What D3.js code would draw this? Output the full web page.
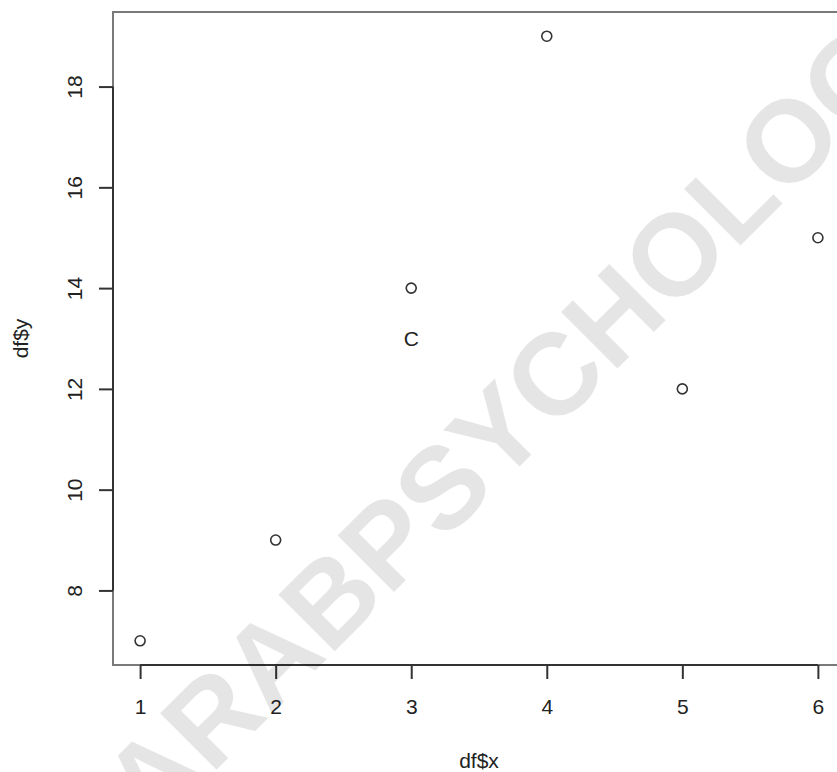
<!DOCTYPE html>
<html>
<head>
<meta charset="utf-8">
<script src="https://cdn.jsdelivr.net/npm/d3@7"></script>
<style>
  body { margin: 0; background: #fff; }
  svg { display: block; font-family: "Liberation Sans", Arial, Helvetica, sans-serif; }
</style>
</head>
<body>
<svg id="chart" width="837" height="772"></svg>
<script>
var xs = [1, 2, 3, 4, 5, 6]
var ys = [7, 9, 14, 19, 12, 15]
var labels = [{ x: 3, y: 13, text: 'C' }]
var xTicks = [1, 2, 3, 4, 5, 6]
var yTicks = [8, 10, 12, 14, 16, 18]
var xTitle = 'df$x'
var yTitle = 'df$y'
var watermark = 'ARABPSYCHOLOGY'

var FONT = 21

// plot region, like R's default margins (the right edge falls outside the picture)
var plotLeft = 113
var plotRight = 845
var plotTop = 12
var plotBottom = 665

// R pads the data range by 4% on each side
function padded (values) {
  var ext = d3.extent(values)
  var pad = (ext[1] - ext[0]) * 0.04
  return [ext[0] - pad, ext[1] + pad]
}

var x = d3.scaleLinear().domain(padded(xs)).range([plotLeft, plotRight])
var y = d3.scaleLinear().domain(padded(ys)).range([plotBottom, plotTop])

var svg = d3.select('#chart')

svg.append('rect')
  .attr('x', plotLeft)
  .attr('y', plotTop)
  .attr('width', plotRight - plotLeft)
  .attr('height', plotBottom - plotTop)
  .attr('fill', 'none')
  .attr('stroke', '#7a7a7a')
  .attr('stroke-width', 2)

var xAxis = svg.append('g')
  .attr('transform', 'translate(0,' + plotBottom + ')')
  .call(d3.axisBottom(x).tickValues(xTicks).tickFormat(d3.format('d'))
    .tickSize(14).tickSizeOuter(0).tickPadding(20))
xAxis.select('.domain')
  .attr('d', 'M' + x(xTicks[0]) + ',0H' + x(xTicks[xTicks.length - 1]))
xAxis.selectAll('line, .domain').attr('stroke', '#333').attr('stroke-width', 2)
xAxis.selectAll('text')
  .attr('font-size', FONT)
  .attr('font-family', null)
  .attr('fill', '#222')

var yAxis = svg.append('g')
  .attr('transform', 'translate(' + plotLeft + ',0)')
  .call(d3.axisLeft(y).tickValues(yTicks).tickFormat(d3.format('d'))
    .tickSize(14).tickSizeOuter(0))
yAxis.select('.domain')
  .attr('d', 'M0,' + y(yTicks[0]) + 'V' + y(yTicks[yTicks.length - 1]))
yAxis.selectAll('line, .domain').attr('stroke', '#333').attr('stroke-width', 2)
yAxis.selectAll('.tick text')
  .attr('font-size', FONT)
  .attr('font-family', null)
  .attr('fill', '#222')
  .attr('x', null)
  .attr('dy', null)
  .attr('text-anchor', 'middle')
  .attr('transform', 'translate(-31,0) rotate(-90)')

svg.selectAll('circle.pt')
  .data(xs.map(function (d, i) { return { x: d, y: ys[i] } }))
  .join('circle')
  .attr('class', 'pt')
  .attr('cx', function (d) { return x(d.x) })
  .attr('cy', function (d) { return y(d.y) })
  .attr('r', 5)
  .attr('fill', 'none')
  .attr('stroke', '#333')
  .attr('stroke-width', 1.6)

svg.selectAll('text.lab')
  .data(labels)
  .join('text')
  .attr('class', 'lab')
  .attr('x', function (d) { return x(d.x) })
  .attr('y', function (d) { return y(d.y) })
  .attr('dy', '0.36em')
  .attr('text-anchor', 'middle')
  .attr('font-size', FONT)
  .attr('fill', '#222')
  .text(function (d) { return d.text })

svg.append('text')
  .attr('x', (plotLeft + plotRight) / 2)
  .attr('y', 768)
  .attr('text-anchor', 'middle')
  .attr('font-size', FONT)
  .attr('fill', '#222')
  .text(xTitle)

svg.append('text')
  .attr('transform', 'translate(28,' + (plotTop + plotBottom) / 2 + ') rotate(-90)')
  .attr('text-anchor', 'middle')
  .attr('font-size', FONT)
  .attr('fill', '#222')
  .text(yTitle)

svg.append('text')
  .attr('transform', 'translate(530,397) rotate(-45)')
  .attr('text-anchor', 'middle')
  .attr('dy', '0.36em')
  .attr('font-size', 116)
  .attr('font-weight', 'bold')
  .attr('fill', '#000')
  .attr('fill-opacity', 0.1)
  .text(watermark)
</script>
</body>
</html>
